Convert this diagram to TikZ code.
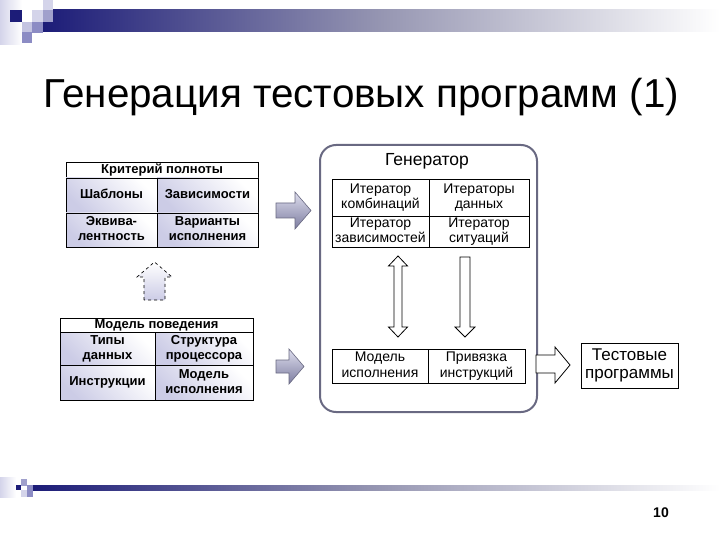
\documentclass[tikz,border=0pt]{standalone}
\usepackage{fontspec}
\setmainfont{Liberation Sans}
\definecolor{navy}{RGB}{28,28,120}
\definecolor{barmid}{RGB}{150,150,178}
\definecolor{lav}{RGB}{204,204,230}
\definecolor{sqpale}{RGB}{212,212,234}
\definecolor{sqmid}{RGB}{160,160,204}
\definecolor{sqdark}{RGB}{140,140,196}
\definecolor{genline}{RGB}{105,105,130}
\definecolor{arrowdark}{RGB}{125,125,160}
\definecolor{arrowlight}{RGB}{222,222,238}
\newcommand{\cellstrut}{\rule[-2.7pt]{0pt}{9.8pt}}
\newcommand{\tallstrut}{\rule{0pt}{13.5pt}}
\newcommand{\gstrut}{\rule[-3pt]{0pt}{10.5pt}}
\begin{document}
\begin{tikzpicture}[x=1pt,y=-1pt,
  every node/.style={inner sep=0pt, outer sep=0pt},
  tabline/.style={draw=black, line width=0.8pt},
  cell/.style={tabline, top color=white, bottom color=lav, shading angle=-45,
    align=center, anchor=north west, font=\fontsize{13}{15}\selectfont\bfseries,
    execute at begin node=\cellstrut, execute at end node=\cellstrut},
  lowtext/.style={execute at begin node=\tallstrut},
  hcell/.style={tabline, fill=white, align=center, anchor=north west,
    font=\fontsize{13}{15}\selectfont\bfseries,
    execute at begin node=\cellstrut, execute at end node=\cellstrut},
  gcell/.style={tabline, fill=white, align=center, anchor=north west,
    font=\fontsize{14}{15.5}\selectfont,
    execute at begin node=\gstrut, execute at end node=\gstrut},
  grayarrow/.style={draw=genline, line width=0.6pt, top color=arrowlight, bottom color=arrowdark},
  hollowarrow/.style={draw=black, line width=0.8pt, fill=white},
]
\useasboundingbox (0,0) rectangle (720,540);
\fill[white] (0,0) rectangle (720,540);

% top decoration
\shade[left color=sqpale, right color=white] (0,0) rectangle (22,45);
\shade[left color=navy, right color=white, middle color=barmid] (43,10) rectangle (720,32);
\fill[navy] (10,10) rectangle (22,22);
\fill[sqpale] (32,10) rectangle (43,22);
\fill[sqpale] (43,0) rectangle (53,10);
\fill[sqmid] (43,10) rectangle (53,22);
\fill[sqpale!70!sqmid] (22,22) rectangle (32,32);
\fill[sqdark] (32,22) rectangle (43,33);
\fill[sqdark] (22,32) rectangle (32,43);

% bottom decoration
\shade[left color=sqpale, right color=white] (0,477) rectangle (16,497);
\shade[left color=navy, right color=white, middle color=barmid] (33,485) rectangle (720,490);
\fill[navy] (16,485) rectangle (21,490);
\fill[sqmid] (21,479) rectangle (27,486);
\fill[sqpale] (21,490) rectangle (27,497);
\fill[sqdark] (27,485) rectangle (33,497);

% title
\node[font=\fontsize{40.4}{45}\selectfont] (title) at (361,97) {Генерация тестовых программ (1)};

% table 1
\node[hcell, minimum width=192pt, minimum height=16pt] (t1h) at (66,162) {Критерий полноты};
\node[cell, minimum width=91pt, minimum height=35pt] (t1a) at (66,178) {Шаблоны};
\node[cell, minimum width=101pt, minimum height=35pt] (t1b) at (157,178) {Зависимости};
\node[cell, minimum width=91pt, minimum height=34pt] (t1c) at (66,213) {Эквива-\\лентность};
\node[cell, minimum width=101pt, minimum height=34pt] (t1d) at (157,213) {Варианты\\исполнения};

% table 2
\node[hcell, minimum width=193pt, minimum height=14pt] (t2h) at (60,318) {Модель поведения};
\node[cell, lowtext, minimum width=95pt, minimum height=33pt] (t2a) at (60,332) {Типы\\данных};
\node[cell, lowtext, minimum width=98pt, minimum height=33pt] (t2b) at (155,332) {Структура\\процессора};
\node[cell, minimum width=95pt, minimum height=35pt] (t2c) at (60,365) {Инструкции};
\node[cell, minimum width=98pt, minimum height=35pt] (t2d) at (155,365) {Модель\\исполнения};

% dashed up arrow
\draw[dashed, line width=0.7pt, top color=white, bottom color=lav]
  (144,300) -- (144,277) -- (137,277) -- (154.5,262) -- (172,277) -- (165,277) -- (165,300) -- cycle;

% gray arrows
\draw[grayarrow] (276,203) -- (295,203) -- (295,192) -- (311,210.5) -- (295,229) -- (295,218) -- (276,218) -- cycle;
\draw[grayarrow] (276,360) -- (289,360) -- (289,349) -- (304,366.5) -- (289,384) -- (289,373) -- (276,373) -- cycle;

% generator
\node[draw=genline, line width=2pt, rounded corners=16pt, minimum width=217pt,
  minimum height=267pt, anchor=north west] (gen) at (320,145) {};
\node[font=\fontsize{17.5}{20}\selectfont] (gtitle) at (427,161) {Генератор};

\node[gcell, minimum width=97pt, minimum height=37pt] (g1) at (332,179) {Итератор\\комбинаций};
\node[gcell, minimum width=100pt, minimum height=37pt] (g2) at (429,179) {Итераторы\\данных};
\node[gcell, minimum width=97pt, minimum height=31pt] (g3) at (332,216) {Итератор\\зависимостей};
\node[gcell, minimum width=100pt, minimum height=31pt] (g4) at (429,216) {Итератор\\ситуаций};

\node[gcell, minimum width=96pt, minimum height=34pt] (g5) at (332,349) {Модель\\исполнения};
\node[gcell, minimum width=97pt, minimum height=34pt] (g6) at (428,349) {Привязка\\инструкций};

% double arrow
\draw[hollowarrow] (398,256) -- (407.5,266) -- (402,266) -- (402,327) -- (407.5,327) -- (398,337)
  -- (388.5,327) -- (394,327) -- (394,266) -- (388.5,266) -- cycle;
% down arrow
\draw[hollowarrow] (460,257) -- (470,257) -- (470,327) -- (475,327) -- (465,337) -- (455,327) -- (460,327) -- cycle;

% output arrow
\draw[hollowarrow] (536,355) -- (555,355) -- (555,347) -- (570,365) -- (555,383) -- (555,373) -- (536,373) -- cycle;

\node[draw=black, line width=0.8pt, minimum width=97pt, minimum height=45pt, anchor=north west,
  align=center, font=\fontsize{17}{17.5}\selectfont] (out) at (581,343) {Тестовые\\программы};

\node[font=\fontsize{14}{16}\selectfont\bfseries] (pnum) at (661,513) {10};
\end{tikzpicture}
\end{document}
